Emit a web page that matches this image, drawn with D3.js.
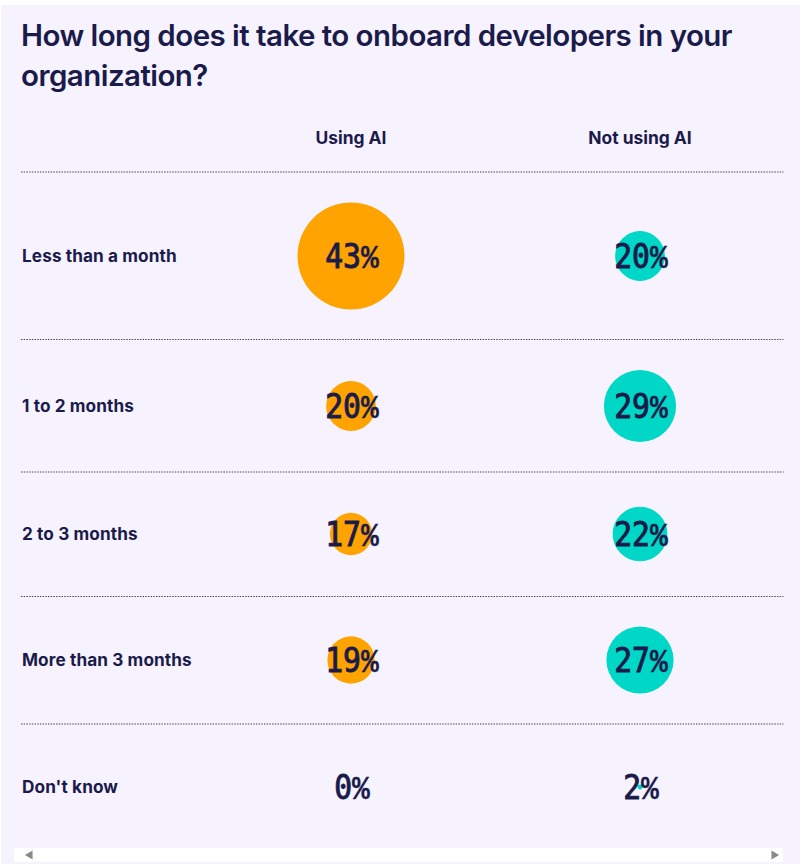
<!DOCTYPE html>
<html>
<head>
<meta charset="utf-8">
<script src="https://cdn.jsdelivr.net/npm/d3@7"></script>
<style>
  html, body { margin: 0; padding: 0; background: #fff; }
  svg { display: block; }
</style>
</head>
<body>
<div id="chart"></div>
<script>
const titleLines = ['How long does it take to onboard developers in your', 'organization?'];
const categories = ['Less than a month', '1 to 2 months', '2 to 3 months', 'More than 3 months', "Don't know"];
const groups = ['Using AI', 'Not using AI'];
const usingAI = [43, 20, 17, 19, 0];
const notUsingAI = [20, 29, 22, 27, 2];

const WIDTH = 800;
const HEIGHT = 864;
const INK = '#1b1b4b';
const colors = d3.scaleOrdinal().domain(groups).range(['#ffa300', '#00d7c6']);

const x = d3.scaleOrdinal().domain(groups).range([351, 640]);
const y = d3.scaleOrdinal().domain(categories).range([256, 406, 534, 660, 787]);
const r = d3.scaleLinear().domain([0, 43]).range([0, 53.5]);
const ruleY = [172, 339.5, 472, 596.5, 724];

const cells = categories.flatMap((category, i) => [
  { category, group: groups[0], value: usingAI[i] },
  { category, group: groups[1], value: notUsingAI[i] }
]);

const svg = d3.select('#chart').append('svg')
  .attr('width', WIDTH)
  .attr('height', HEIGHT)
  .attr('viewBox', `0 0 ${WIDTH} ${HEIGHT}`);

svg.append('rect')
  .attr('x', 1).attr('y', 5)
  .attr('width', WIDTH - 1).attr('height', HEIGHT - 5)
  .attr('fill', '#f6f3fe');

svg.append('g').selectAll('text')
  .data(titleLines)
  .join('text')
  .attr('x', 21)
  .attr('y', (d, i) => 46 + i * 40)
  .attr('font-family', 'Inter, sans-serif')
  .attr('font-size', 29.5)
  .attr('font-weight', 600)
  .attr('letter-spacing', -0.55)
  .attr('fill', INK)
  .text(d => d);

svg.append('g').selectAll('text')
  .data(groups)
  .join('text')
  .attr('x', d => x(d))
  .attr('y', 144)
  .attr('text-anchor', 'middle')
  .attr('font-family', 'Inter, sans-serif')
  .attr('font-size', 17.4)
  .attr('font-weight', 700)
  .attr('fill', INK)
  .text(d => d);

svg.append('g').selectAll('line')
  .data(ruleY)
  .join('line')
  .attr('x1', 21)
  .attr('x2', 783.5)
  .attr('y1', d => d)
  .attr('y2', d => d)
  .attr('stroke', '#4a4a55')
  .attr('stroke-width', 1)
  .attr('stroke-dasharray', '1.5,1.2');

svg.append('g').selectAll('text')
  .data(categories)
  .join('text')
  .attr('x', 22)
  .attr('y', d => y(d))
  .attr('dy', '0.35em')
  .attr('font-family', 'Inter, sans-serif')
  .attr('font-size', 17.2)
  .attr('font-weight', 700)
  .attr('letter-spacing', 0.1)
  .attr('fill', INK)
  .text(d => d);

svg.append('g').selectAll('circle')
  .data(cells)
  .join('circle')
  .attr('cx', d => x(d.group))
  .attr('cy', d => y(d.category))
  .attr('r', d => r(d.value))
  .attr('fill', d => colors(d.group));

// no condensed mono font is installed, so the value labels are squeezed horizontally
const valueLabels = svg.append('g').selectAll('text')
  .data(cells)
  .join('text')
  .attr('transform', d => `translate(${x(d.group) + 1},${y(d.category) + 11.5}) scale(0.9,1)`)
  .attr('text-anchor', 'middle')
  .attr('font-family', '"DejaVu Sans Mono", monospace')
  .attr('font-size', 33)
  .attr('fill', INK)
  .attr('stroke', INK)
  .attr('stroke-width', 1);

valueLabels.append('tspan').text(d => d.value);
// the DejaVu % is too small next to the digits
valueLabels.append('tspan')
  .attr('font-family', '"Liberation Mono", monospace')
  .attr('font-weight', 700)
  .attr('stroke-width', 0.3)
  .text('%');

// scrollbar strip along the bottom of the page
svg.append('rect')
  .attr('x', 14).attr('y', 848)
  .attr('width', 769).attr('height', 14)
  .attr('fill', '#fff');

svg.append('g').selectAll('path')
  .data(['left', 'right'])
  .join('path')
  .attr('d', d3.symbol().type(d3.symbolTriangle).size(34))
  .attr('transform', d => d === 'left' ? 'translate(30,855) rotate(-90)' : 'translate(774,855) rotate(90)')
  .attr('fill', '#8a8a8a');
</script>
</body>
</html>
